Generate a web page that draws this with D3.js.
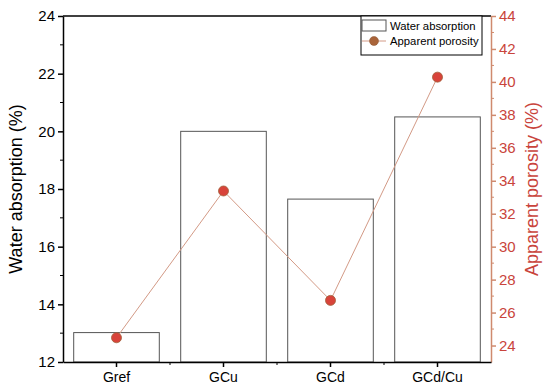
<!DOCTYPE html>
<html>
<head>
<meta charset="utf-8">
<script src="https://cdn.jsdelivr.net/npm/d3@7"></script>
<style>
  body { margin: 0; background: #fff; }
  svg { font-family: "Liberation Sans", Arial, sans-serif; }
</style>
</head>
<body>
<div id="chart"></div>
<script>
// data
const categories = ['Gref', 'GCu', 'GCd', 'GCd/Cu'];
const waterAbsorption = [13.02, 20.0, 17.65, 20.5];
const apparentPorosity = [24.47, 33.38, 26.74, 40.29];
const leftTicks = [12, 14, 16, 18, 20, 22, 24];
const rightTicks = [24, 26, 28, 30, 32, 34, 36, 38, 40, 42, 44];

const width = 550, height = 391;
const margin = { top: 16, right: 59, bottom: 29, left: 63 };
const redText = '#c9443c';
const redAxis = '#cf8a6e';

const svg = d3.select('#chart').append('svg')
  .attr('width', width).attr('height', height);

const x = d3.scaleBand()
  .domain(categories)
  .range([margin.left, width - margin.right])
  .paddingInner(0).paddingOuter(0);

const yL = d3.scaleLinear().domain([12, 24]).range([height - margin.bottom, margin.top]);
const yR = d3.scaleLinear().domain([23, 44]).range([height - margin.bottom, margin.top]);

// bars
const barW = x.bandwidth() * 0.8;
svg.append('g').selectAll('rect')
  .data(categories)
  .enter().append('rect')
  .attr('x', (d) => x(d) + (x.bandwidth() - barW) / 2)
  .attr('y', (d, i) => yL(waterAbsorption[i]))
  .attr('width', barW)
  .attr('height', (d, i) => yL(12) - yL(waterAbsorption[i]))
  .attr('fill', '#fff')
  .attr('stroke', '#555')
  .attr('stroke-width', 1);

// porosity line + dots
const line = d3.line()
  .x((d, i) => x(categories[i]) + x.bandwidth() / 2)
  .y((d) => yR(d));

svg.append('path')
  .datum(apparentPorosity)
  .attr('fill', 'none')
  .attr('stroke', '#d39a86')
  .attr('stroke-width', 1)
  .attr('d', line);

svg.append('g').selectAll('circle')
  .data(apparentPorosity)
  .enter().append('circle')
  .attr('cx', (d, i) => x(categories[i]) + x.bandwidth() / 2)
  .attr('cy', (d) => yR(d))
  .attr('r', 5)
  .attr('fill', '#d8433a')
  .attr('stroke', '#a0603a')
  .attr('stroke-width', 0.8);

// frame top line
svg.append('line')
  .attr('x1', margin.left).attr('x2', width - margin.right)
  .attr('y1', margin.top).attr('y2', margin.top)
  .attr('stroke', '#000').attr('stroke-width', 1.5);

// left axis
const gL = svg.append('g')
  .attr('transform', `translate(${margin.left},0)`)
  .call(d3.axisLeft(yL).tickValues(leftTicks).tickSize(5).tickPadding(3).tickSizeOuter(0));
gL.selectAll('line.minor')
  .data(d3.range(13, 24, 2)).enter()
  .append('line')
  .attr('x1', -3).attr('x2', 0)
  .attr('y1', (d) => yL(d)).attr('y2', (d) => yL(d))
  .attr('stroke', '#000');
gL.select('.domain').attr('stroke-width', 1.5);
gL.selectAll('.tick line').attr('stroke-width', 1.5);
gL.selectAll('text').style('font-size', '15px').attr('fill', '#000');

// right axis
const gR = svg.append('g')
  .attr('transform', `translate(${width - margin.right},0)`)
  .call(d3.axisRight(yR).tickValues(rightTicks).tickSize(5).tickPadding(3).tickSizeOuter(0));
gR.select('.domain').attr('stroke', redAxis).attr('stroke-width', 1.5);
gR.selectAll('.tick line').attr('stroke', redAxis).attr('stroke-width', 1.5);
gR.selectAll('line.minor')
  .data(d3.range(25, 44, 2)).enter()
  .append('line')
  .attr('x1', 0).attr('x2', 3)
  .attr('y1', (d) => yR(d)).attr('y2', (d) => yR(d))
  .attr('stroke', redAxis);
gR.selectAll('text').style('font-size', '15px').attr('fill', redText);

// bottom axis
const gB = svg.append('g')
  .attr('transform', `translate(0,${height - margin.bottom})`)
  .call(d3.axisBottom(x).tickSize(5).tickPadding(5).tickSizeOuter(0));
gB.select('.domain').attr('stroke-width', 1.5);
gB.selectAll('.tick line').attr('stroke-width', 1.5);
gB.selectAll('line.minor')
  .data(categories.slice(1)).enter()
  .append('line')
  .attr('x1', (d) => x(d)).attr('x2', (d) => x(d))
  .attr('y1', 0).attr('y2', 3)
  .attr('stroke', '#000');
gB.selectAll('text').style('font-size', '14px').attr('fill', '#000');

// axis titles
svg.append('text')
  .attr('transform', `translate(22,${(margin.top + height - margin.bottom) / 2}) rotate(-90)`)
  .attr('text-anchor', 'middle')
  .style('font-size', '18px')
  .text('Water absorption (%)');

svg.append('text')
  .attr('transform', `translate(538,${(margin.top + height - margin.bottom) / 2}) rotate(-90)`)
  .attr('text-anchor', 'middle')
  .style('font-size', '18px')
  .attr('fill', redText)
  .text('Apparent porosity (%)');

// legend
const lg = svg.append('g');
lg.append('rect')
  .attr('x', 361).attr('y', 16).attr('width', 121).attr('height', 39)
  .attr('fill', '#fff').attr('stroke', '#000').attr('stroke-width', 1);
lg.append('rect')
  .attr('x', 362).attr('y', 20).attr('width', 24).attr('height', 11)
  .attr('fill', '#fff').attr('stroke', '#555');
lg.append('line')
  .attr('x1', 362).attr('x2', 386).attr('y1', 41).attr('y2', 41)
  .attr('stroke', '#d39a86');
lg.append('circle')
  .attr('cx', 374).attr('cy', 41).attr('r', 4.5)
  .attr('fill', '#a9643a').attr('stroke', '#8a5530').attr('stroke-width', 0.5);
lg.append('text').attr('x', 390).attr('y', 30).style('font-size', '11.3px').text('Water absorption');
lg.append('text').attr('x', 390).attr('y', 45).style('font-size', '11.3px').text('Apparent porosity');
</script>
</body>
</html>
